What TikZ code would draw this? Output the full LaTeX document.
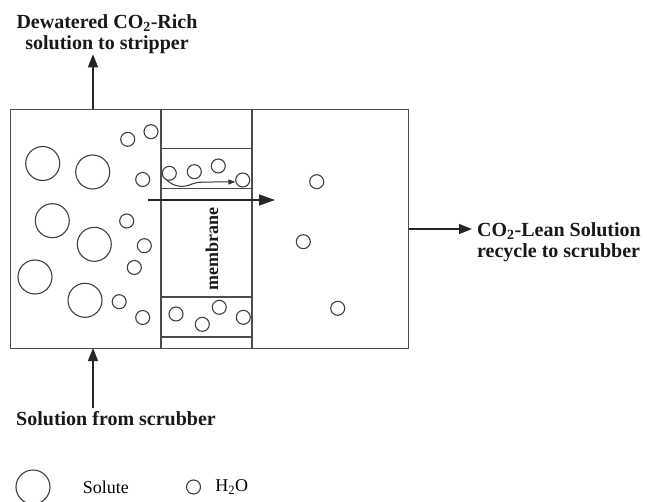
\documentclass[tikz,border=0pt]{standalone}
\usepackage{fontspec}
\setmainfont{Liberation Serif}
\usetikzlibrary{positioning,arrows.meta}

\begin{document}
\begin{tikzpicture}[x=1pt, y=-1pt,
    wall/.style={draw=black!70, line width=1.3pt},
    solute/.style={circle, draw=black!75, line width=1.1pt, minimum size=34pt, inner sep=0pt},
    water/.style={circle, draw=black!75, line width=1.1pt, minimum size=14pt, inner sep=0pt},
    stream/.style={font=\fontsize{20}{21}\selectfont\bfseries, inner sep=0pt, text=black!90},
    keytext/.style={font=\fontsize{18}{20}\selectfont, inner sep=0pt},
    flow/.style={draw=black!85, line width=1.3pt, -{Triangle[length=13pt,width=10pt]}}
]
\useasboundingbox (0,0) rectangle (647,502);

% vessel and membrane strip
\node[wall, minimum width=398pt, minimum height=239pt, anchor=north west] (tank) at (10,109) {};
\draw[wall] (161,109) -- (161,348);
\draw[wall] (252,109) -- (252,348);
\foreach \y in {148.5,188.5,297,337}
    \draw[wall, line width=1.1pt] (161,\y) -- (252,\y);

% solutes and water
\foreach \p [count=\i] in {(42.7,163.5),(92.7,172),(52.3,220.7),(94.3,244.3),(35,277),(85,300.3)}
    \node[solute] (s\i) at \p {};
\foreach \p [count=\i] in {(127.7,139.3),(151,131.7),(142.7,179.5),(126.7,221),(144.3,245.7),
    (134.3,267.5),(119.2,301.7),(142.7,317.5)}
    \node[water] (w\i) at \p {};
\foreach \p [count=\i] in {(169.3,173.3),(194.3,171.7),(218.3,166),(242.7,180)}
    \node[water] (m\i) at \p {};
\foreach \p [count=\i] in {(176,314),(202.3,324.3),(219.3,307.3),(243.3,317.3)}
    \node[water] (n\i) at \p {};
\foreach \p [count=\i] in {(316.7,181.7),(303.3,241.7),(337.7,308.3)}
    \node[water] (r\i) at \p {};

% permeation
\coordinate (pstart) at (148,200);
\coordinate (pend) at (275,200);
\draw[flow, -{Triangle[length=16pt,width=11pt]}] (pstart) -- (pend);
\draw[draw=black!80, line width=1pt, -{Triangle[length=7pt,width=5pt]}]
    (m1.250) .. controls (175,187) and (183,188) .. (192,184) .. controls (198,182) .. (m4.195);
\node[stream, rotate=90, font=\fontsize{18}{20}\selectfont\bfseries] (memlabel) at (212,249) {membrane};

% streams
\node[stream, align=center] (richtxt) at (107,34.5) {Dewatered CO\textsubscript{2}-Rich\\solution to stripper};
\node[stream, anchor=base west] (feedtxt) at (16,425) {Solution from scrubber};
\node[stream, align=left, anchor=west] (leantxt) at (477,242) {CO\textsubscript{2}-Lean Solution\\recycle to scrubber};
\coordinate (outlet) at (93,109);
\coordinate (inlet) at (93,348);
\coordinate (leanend) at (472,229);
\draw[flow] (outlet) -- (outlet |- richtxt.south);
\draw[flow] (feedtxt.north -| inlet) ++(0,-3) -- (inlet);
\draw[flow] (tank.east |- leanend) -- (leanend);

% legend
\node[solute] (keysolute) at (33,487) {};
\node[keytext, right=32pt of keysolute] (keysolutetxt) {Solute};
\node[water, right=57pt of keysolutetxt] (keywater) {};
\node[keytext, right=14pt of keywater] (keywatertxt) {H\textsubscript{2}O};
\end{tikzpicture}
\end{document}
